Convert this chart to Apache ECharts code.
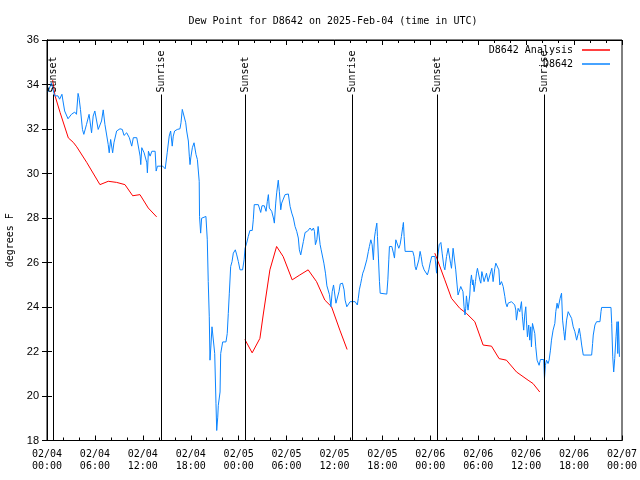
<!DOCTYPE html>
<html><head><meta charset="utf-8">
<script src="https://cdn.jsdelivr.net/npm/echarts@6/dist/echarts.min.js"></script>
</head><body style="margin:0;background:#fff">
<div id="c" style="width:640px;height:480px"></div>
<script>
// Hours since 2025-02-04 00:00 UTC
const titleText = 'Dew Point for D8642 on 2025-Feb-04 (time in UTC)';
const yTitle = 'degrees F';
const analysisName = 'D8642 Analysis';
const obsName = 'D8642';

const sunEvents = [
  ['Sunset', 0.79], ['Sunrise', 14.36], ['Sunset', 24.84],
  ['Sunrise', 38.21], ['Sunset', 48.85], ['Sunrise', 62.27]
];

const analysisNight1 = [[0.71,34.2],[1.0,33.5],[1.63,32.75],[2.67,31.6],[3.29,31.4],[3.72,31.2],[4.97,30.5],[6.63,29.5],[7.67,29.65],[8.72,29.6],[9.76,29.5],[10.73,29.0],[11.64,29.05],[12.68,28.45],[13.73,28.05]];
const analysisNight2 = [[24.78,22.54],[25.69,21.94],[26.66,22.59],[27.07,23.64],[27.91,25.67],[28.75,26.72],[29.57,26.27],[30.7,25.22],[31.66,25.44],[32.7,25.67],[33.75,25.14],[34.79,24.31],[35.63,24.01],[36.67,22.96],[37.58,22.09]];
const analysisNight3 = [[48.56,26.42],[48.97,26.04],[49.81,25.22],[50.65,24.39],[51.69,23.94],[52.53,23.71],[53.57,23.34],[54.61,22.29],[55.66,22.24],[56.61,21.68],[57.53,21.61],[58.79,21.08],[60.24,20.71],[60.86,20.56],[61.7,20.18]];

const obsHours = [0.15,0.55,0.95,1.37,1.58,1.87,2.0,2.21,2.43,2.63,3.06,3.47,3.69,3.89,4.01,4.19,4.44,4.61,4.95,5.27,5.58,5.78,5.99,6.2,6.41,6.83,7.04,7.25,7.66,7.79,7.97,8.22,8.38,8.72,9.14,9.43,9.64,9.98,10.31,10.61,10.81,11.24,11.66,11.74,11.87,12.16,12.41,12.5,12.57,12.7,12.91,13.13,13.54,13.67,13.83,14.17,14.5,14.8,14.93,15.05,15.3,15.48,15.68,15.81,15.98,16.31,16.65,16.78,16.94,17.19,17.37,17.49,17.7,17.82,17.91,18.0,18.2,18.41,18.66,18.83,19.06,19.1,19.24,19.36,19.56,19.9,20.07,20.19,20.32,20.41,20.53,20.66,20.91,21.0,21.16,21.25,21.38,21.45,21.67,21.75,22.0,22.41,22.57,22.7,22.83,23.0,23.17,23.33,23.58,23.76,23.96,24.17,24.49,24.68,24.8,25.0,25.2,25.41,25.7,25.83,25.95,26.46,26.76,26.92,27.21,27.43,27.59,27.72,27.84,28.14,28.35,28.47,28.64,28.76,28.96,29.09,29.27,29.39,29.59,29.81,30.22,30.44,30.65,30.85,31.06,31.27,31.47,31.6,31.77,31.98,32.1,32.32,32.6,32.94,33.16,33.36,33.49,33.61,33.79,33.95,34.08,34.2,34.33,34.54,34.67,34.87,35.05,35.25,35.37,35.55,35.71,35.88,36.05,36.18,36.38,36.56,36.72,37.0,37.2,37.33,37.54,37.75,37.96,38.58,38.86,38.98,39.11,39.29,39.41,39.54,39.7,39.95,40.04,40.24,40.37,40.55,40.71,40.87,41.0,41.12,41.3,41.38,41.5,41.63,41.72,42.55,42.68,42.8,42.88,43.18,43.38,43.51,43.68,43.88,44.05,44.21,44.38,44.55,44.63,44.72,44.84,45.8,45.97,46.09,46.22,46.38,46.56,46.72,46.85,47.0,47.22,47.47,47.63,47.81,47.97,48.17,48.58,48.78,48.86,49.11,49.32,49.48,49.69,49.82,50.03,50.23,50.35,50.53,50.65,50.85,51.06,51.18,51.35,51.47,51.69,51.81,52.02,52.09,52.22,52.34,52.43,52.52,52.6,52.72,52.85,52.94,53.02,53.15,53.28,53.35,53.48,53.65,53.78,53.9,54.11,54.19,54.32,54.45,54.6,54.73,54.85,55.03,55.23,55.44,55.57,55.7,55.86,56.07,56.2,56.41,56.58,56.7,56.91,57.12,57.33,57.45,57.61,57.74,58.16,58.37,58.57,58.7,58.78,58.99,59.2,59.41,59.53,59.69,59.82,59.95,60.03,60.16,60.32,60.45,60.57,60.66,60.79,60.95,61.08,61.2,61.37,61.62,61.79,62.2,62.29,62.41,62.54,62.74,62.87,63.04,63.17,63.37,63.59,63.71,63.87,64.0,64.13,64.25,64.43,64.56,64.72,64.84,65.06,65.26,65.47,65.69,65.89,66.1,66.32,66.52,66.65,66.82,66.95,67.15,68.2,68.32,68.4,68.61,68.82,69.24,69.37,69.45,70.62,70.71,70.84,70.96,71.09,71.25,71.38,71.47,71.55,71.68];
const obsValues = [33.67,34.08,33.49,33.49,33.34,33.56,33.26,32.81,32.73,32.46,32.66,32.76,32.66,33.6,33.41,32.88,31.98,31.76,32.21,32.66,31.83,32.58,32.81,32.81,31.98,32.36,32.86,32.21,31.31,30.93,31.53,30.93,31.38,31.91,32.01,31.98,31.71,31.83,31.61,31.23,31.61,31.61,30.78,30.4,31.16,30.93,31.0,30.48,30.03,31.0,30.78,31.0,31.0,30.11,30.33,30.33,30.33,30.21,30.21,30.93,31.68,31.91,31.23,31.68,31.91,31.98,32.01,32.28,32.88,32.88,32.28,31.91,31.46,30.78,30.4,30.7,31.16,31.38,30.85,30.63,29.65,28.07,27.32,27.99,28.07,28.07,27.02,25.14,23.56,21.61,22.29,23.11,23.11,21.91,19.65,18.45,19.05,19.58,20.18,21.91,22.43,22.43,22.81,23.71,24.62,25.82,26.04,26.42,26.57,26.34,26.04,25.67,25.67,26.12,26.64,26.87,27.17,27.44,27.44,27.92,28.6,28.6,28.25,28.55,28.55,28.3,28.75,29.05,28.45,28.3,28.0,27.77,28.67,29.13,29.7,29.2,28.37,28.67,28.85,29.05,29.08,28.52,28.22,28.0,27.62,27.4,27.1,26.57,26.34,26.34,26.94,27.35,27.4,27.55,27.44,27.55,27.4,26.8,27.02,27.62,27.62,26.8,26.57,26.5,25.97,25.52,24.95,24.92,24.55,24.01,24.69,24.99,24.92,24.17,24.17,24.69,25.04,25.07,24.77,24.31,24.01,24.09,24.24,24.24,24.09,24.39,24.77,25.07,25.29,25.52,25.67,25.59,26.12,26.5,26.72,27.02,26.8,26.12,27.1,27.4,27.77,27.17,26.2,25.14,24.62,24.58,25.22,26.12,26.72,26.72,26.42,26.2,27.02,27.02,26.64,26.8,27.17,27.62,27.8,27.17,26.5,26.5,26.27,25.82,25.67,25.67,26.12,26.5,26.27,25.9,25.67,25.67,25.44,25.67,25.97,26.27,26.27,25.52,26.04,26.8,26.9,26.42,25.82,25.67,26.27,26.64,26.64,25.97,25.74,26.64,26.64,25.67,24.99,24.54,24.5,24.92,24.99,24.69,24.01,23.64,23.94,24.5,24.24,23.86,23.86,24.54,25.07,25.44,24.99,25.22,24.69,25.14,25.52,25.74,25.74,25.22,25.07,25.59,25.52,25.14,25.14,25.52,25.14,25.14,25.59,25.74,25.14,25.74,25.97,25.97,25.67,24.99,25.14,24.92,24.47,24.17,24.01,24.17,24.24,24.17,24.09,23.86,23.41,23.94,23.79,24.24,23.56,22.96,23.64,24.01,23.41,22.66,23.19,22.51,23.11,22.21,23.26,23.34,22.81,22.21,21.61,21.38,21.64,21.64,20.78,21.38,21.61,21.46,21.61,22.06,22.51,22.96,23.26,23.79,24.17,23.94,23.94,24.39,24.62,23.41,22.89,22.51,23.41,23.79,23.64,23.49,23.11,22.89,22.51,22.81,23.04,22.66,22.29,21.84,21.84,22.36,22.74,23.19,23.34,23.34,23.79,23.98,23.98,23.26,21.76,21.08,21.68,22.66,23.34,21.91,23.34,21.76];

const yMin = 18, yMax = 36, yStep = 2;
const xMin = 0, xMax = 72, xStep = 6;
const labelTop = 33.55;

const MONO = "'DejaVu Sans Mono', monospace";

const analysisData = analysisNight1.concat([[19, null]], analysisNight2, [[43, null]], analysisNight3);
const obsData = obsHours.map((h, i) => [h, obsValues[i]]);

const eventLabel = { show: true, position: 'insideStart', distance: 2,
  fontFamily: MONO, fontSize: 10, color: '#000', formatter: '{b}' };
const eventLines = [];
sunEvents.forEach(([name, t]) => {
  eventLines.push([{ coord: [t, yMin], label: { show: false } }, { coord: [t, labelTop] }]);
  eventLines.push([
    { coord: [t, labelTop], name: name, label: eventLabel,
      lineStyle: { color: 'rgba(0,0,0,0)' } },
    { coord: [t, yMax] }
  ]);
});

function xLabel(h) {
  const d = 4 + Math.floor(h / 24);
  const hh = h % 24;
  return '02/0' + d + '\n' + String(hh).padStart(2, '0') + ':00';
}

const axisLineBlack = { show: true, lineStyle: { color: '#000', width: 1 } };

const chart = echarts.init(document.getElementById('c'), null, { renderer: 'canvas' });
chart.setOption({
  animation: false,
  backgroundColor: '#fff',
  title: {
    text: titleText, left: 328, top: 11, textAlign: 'center',
    textStyle: { fontFamily: MONO, fontSize: 10, fontWeight: 'normal', color: '#000' }
  },
  legend: [
    { data: [analysisName], right: 30, top: 45, padding: 0, align: 'right', icon: 'rect',
      itemWidth: 28, itemHeight: 1.5, textStyle: { fontFamily: MONO, fontSize: 10, color: '#000', padding: [0, 4, 0, 0] } },
    { data: [obsName], right: 30, top: 59, padding: 0, align: 'right', icon: 'rect',
      itemWidth: 28, itemHeight: 1.5, textStyle: { fontFamily: MONO, fontSize: 10, color: '#000', padding: [0, 4, 0, 0] } }
  ],
  grid: { left: 47, right: 18, top: 40, bottom: 39.5, show: true, borderColor: '#000', borderWidth: 1,
          containLabel: false, outerBoundsMode: 'none' },
  xAxis: [
    { type: 'value', min: xMin, max: xMax, interval: xStep, position: 'bottom',
      axisLine: axisLineBlack, splitLine: { show: false },
      axisTick: { show: true, inside: true, length: 5, lineStyle: { color: '#000' } },
      minorTick: { show: true, splitNumber: 3, length: 3, lineStyle: { color: '#000' } },
      axisLabel: { formatter: xLabel, fontFamily: MONO, fontSize: 10, color: '#000', lineHeight: 12, margin: 8 } },
    { type: 'value', min: xMin, max: xMax, interval: xStep, position: 'top',
      axisLine: axisLineBlack, splitLine: { show: false },
      axisTick: { show: true, inside: true, length: 5, lineStyle: { color: '#000' } },
      minorTick: { show: true, splitNumber: 3, length: 3, lineStyle: { color: '#000' } },
      axisLabel: { show: false } }
  ],
  yAxis: [
    { type: 'value', min: yMin, max: yMax, interval: yStep, position: 'left',
      name: yTitle, nameLocation: 'middle', nameRotate: 90, nameGap: 31,
      nameTextStyle: { fontFamily: MONO, fontSize: 10, color: '#000' },
      axisLine: axisLineBlack, splitLine: { show: false },
      axisTick: { show: true, inside: true, length: 5, lineStyle: { color: '#000' } },
      axisLabel: { fontFamily: "'Liberation Sans', sans-serif", fontSize: 11, color: '#000', margin: 8 } },
    { type: 'value', min: yMin, max: yMax, interval: yStep, position: 'right',
      axisLine: axisLineBlack, splitLine: { show: false },
      axisTick: { show: true, inside: true, length: 5, lineStyle: { color: '#000' } },
      axisLabel: { show: false } }
  ],
  series: [
    { name: analysisName, type: 'line', data: analysisData, showSymbol: false, connectNulls: false,
      color: '#ff0000', lineStyle: { color: '#ff0000', width: 1 },
      markLine: { silent: true, symbol: ['none', 'none'], animation: false,
        label: { show: false },
        lineStyle: { color: '#000', width: 1, type: 'solid' },
        emphasis: { disabled: true },
        data: eventLines } },
    { name: obsName, type: 'line', data: obsData, showSymbol: false,
      color: '#0a84ff', lineStyle: { color: '#0a84ff', width: 1 } }
  ]
});
</script></body></html>
